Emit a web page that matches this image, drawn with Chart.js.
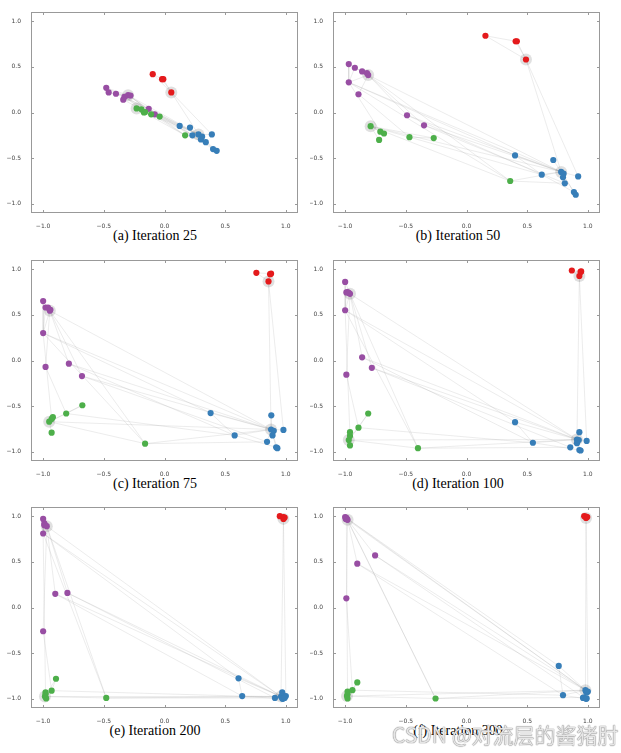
<!DOCTYPE html>
<html>
<head>
<meta charset="utf-8">
<script src="https://cdn.jsdelivr.net/npm/chart.js@4/dist/chart.umd.min.js"></script>
<style>
  body { margin: 0; background: #fff; }
  #page { position: relative; width: 621px; height: 753px; overflow: hidden; }
  canvas { position: absolute; }
  .cap { position: absolute; width: 240px; text-align: center; font: 14px/16px "Liberation Serif", serif; color: #000; }
  .mark { position: absolute; left: 392px; top: 719px; font: 21px "Noto Sans CJK SC", sans-serif; color: #e6e6e6;
          text-shadow: 0 0 1px #777, 0 0 1px #777; white-space: nowrap; }
</style>
</head>
<body>
<div id="page"></div>
<script>
// tick labels and colours
const tickValues = [-1, -0.5, 0, 0.5, 1];
const palette = ["#e41a1c", "#984ea3", "#4daf4a", "#377eb8"];

// node community: 4 red, 9 purple, 7 green, 10 blue
const group = [0, 0, 0, 0,
  1, 1, 1, 1, 1, 1, 1, 1, 1,
  2, 2, 2, 2, 2, 2, 2,
  3, 3, 3, 3, 3, 3, 3, 3, 3, 3];
// labelled nodes (grey halo)
const hubs = [0, 4, 13, 20];
// graph edges (node index pairs)
const edges = [
  [0, 1], [0, 2], [0, 3], [1, 2],
  [4, 5], [4, 6], [4, 7], [4, 8], [4, 9], [4, 10], [4, 11], [4, 12], [5, 9], [6, 9],
  [13, 14], [13, 15], [13, 16], [13, 17], [13, 18], [13, 19], [17, 18],
  [20, 21], [20, 22], [20, 23], [20, 24], [20, 25], [20, 26], [20, 27], [20, 28], [20, 29], [21, 22], [22, 28],
  [0, 26], [0, 20],
  [4, 20], [9, 20], [9, 21], [9, 19], [11, 20], [12, 20], [10, 17], [4, 19], [9, 14],
  [13, 20], [19, 20], [19, 27], [17, 22], [11, 22], [12, 27]
];

// (a) Iteration 25
const a_x = [0.056, -0.097, -0.02, -0.01,
  -0.30, -0.48, -0.46, -0.40, -0.28, -0.33, -0.34, -0.13, -0.08,
  -0.23, -0.19, -0.17, -0.16, -0.11, -0.04, 0.17,
  0.28, 0.125, 0.23, 0.21, 0.31, 0.30, 0.39, 0.34, 0.40, 0.43];
const a_y = [0.22, 0.42, 0.365, 0.365,
  0.19, 0.27, 0.22, 0.205, 0.185, 0.17, 0.14, 0.04, -0.02,
  0.045, 0.035, 0.0, 0.005, -0.02, -0.045, -0.25,
  -0.24, -0.147, -0.25, -0.165, -0.265, -0.295, -0.24, -0.325, -0.40, -0.42];

// (b) Iteration 50
const b_x = [0.49, 0.156, 0.405, 0.415,
  -0.81, -0.97, -0.92, -0.86, -0.82, -0.97, -0.89, -0.49, -0.35,
  -0.79, -0.71, -0.68, -0.72, -0.47, -0.27, 0.36,
  0.78, 0.40, 0.62, 0.715, 0.80, 0.795, 0.92, 0.81, 0.885, 0.90];
const b_y = [0.58, 0.84, 0.78, 0.78,
  0.41, 0.53, 0.49, 0.45, 0.43, 0.33, 0.20, -0.03, -0.14,
  -0.15, -0.21, -0.23, -0.30, -0.27, -0.28, -0.75,
  -0.65, -0.47, -0.68, -0.52, -0.67, -0.71, -0.70, -0.775, -0.87, -0.90];

// (c) Iteration 75
const c_x = [0.857, 0.757, 0.878, 0.87,
  -0.945, -1.0, -0.98, -0.96, -0.94, -1.0, -0.98, -0.788, -0.68,
  -0.95, -0.93, -0.92, -0.93, -0.81, -0.677, -0.16,
  0.878, 0.38, 0.578, 0.88, 0.90, 0.89, 0.98, 0.845, 0.92, 0.93];
const c_y = [0.865, 0.96, 0.95, 0.945,
  0.545, 0.65, 0.58, 0.58, 0.555, 0.30, -0.07, -0.035, -0.17,
  -0.67, -0.64, -0.62, -0.79, -0.58, -0.49, -0.91,
  -0.755, -0.575, -0.82, -0.60, -0.77, -0.82, -0.76, -0.89, -0.95, -0.96];

// (d) Iteration 100
const d_x = [0.93, 0.868, 0.945, 0.94,
  -0.96, -1.0, -0.99, -0.98, -0.97, -1.0, -0.99, -0.86, -0.78,
  -0.97, -0.96, -0.96, -0.96, -0.89, -0.81, -0.40,
  0.91, 0.40, 0.547, 0.93, 0.925, 0.91, 0.99, 0.855, 0.93, 0.94];
const d_y = [0.925, 0.985, 0.975, 0.97,
  0.73, 0.86, 0.745, 0.75, 0.74, 0.55, -0.155, 0.035, -0.08,
  -0.87, -0.825, -0.785, -0.93, -0.735, -0.58, -0.96,
  -0.865, -0.675, -0.90, -0.785, -0.87, -0.905, -0.88, -0.95, -0.98, -0.985];

// (e) Iteration 200
const e_x = [0.98, 0.95, 0.98, 0.99,
  -0.97, -1.0, -0.99, -0.99, -0.985, -1.0, -1.0, -0.90, -0.80,
  -0.985, -0.98, -0.98, -0.975, -0.93, -0.894, -0.48,
  0.96, 0.61, 0.64, 0.97, 0.985, 0.97, 1.0, 0.91, 0.975, 0.99];
const e_y = [0.97, 1.0, 0.99, 0.985,
  0.89, 0.97, 0.92, 0.90, 0.905, 0.81, -0.26, 0.15, 0.16,
  -0.975, -0.95, -0.93, -0.995, -0.91, -0.78, -0.99,
  -0.975, -0.775, -0.97, -0.93, -0.975, -0.995, -0.97, -0.99, -1.0, -0.99];

// (f) Iteration 300
const f_x = [0.985, 0.97, 0.985, 0.995,
  -0.98, -1.0, -0.995, -0.99, -0.985, -0.99, -0.99, -0.90, -0.753,
  -0.985, -0.98, -0.98, -0.98, -0.94, -0.90, -0.255,
  0.98, 0.76, 0.795, 0.985, 0.99, 0.96, 1.0, 0.965, 0.985, 0.99];
const f_y = [0.98, 1.0, 0.995, 0.99,
  0.96, 0.99, 0.97, 0.975, 0.965, 0.98, 0.10, 0.48, 0.57,
  -0.97, -0.95, -0.92, -0.995, -0.905, -0.82, -0.996,
  -0.905, -0.64, -0.96, -0.92, -0.93, -0.99, -0.92, -0.985, -1.0, -0.995];

const panels = [
  { xs: a_x, ys: a_y, title: "(a) Iteration 25", left: 0, top: 0, col: 0 },
  { xs: b_x, ys: b_y, title: "(b) Iteration 50", left: 310, top: 0, col: 1 },
  { xs: c_x, ys: c_y, title: "(c) Iteration 75", left: 0, top: 248, col: 0 },
  { xs: d_x, ys: d_y, title: "(d) Iteration 100", left: 310, top: 248, col: 1 },
  { xs: e_x, ys: e_y, title: "(e) Iteration 200", left: 0, top: 495, col: 0 },
  { xs: f_x, ys: f_y, title: "(f) Iteration 300", left: 310, top: 495, col: 1 }
];
const capTops = [228, 476, 723];

// box round the axes with short inward ticks
const framePlugin = {
  id: "frame",
  afterDraw(chart) {
    const { ctx, chartArea: a, scales } = chart;
    ctx.save();
    ctx.strokeStyle = "#999";
    ctx.lineWidth = 1;
    ctx.strokeRect(a.left + 0.5, a.top + 0.5, a.width - 1, a.height - 1);
    ctx.beginPath();
    scales.x.ticks.forEach((t) => {
      const px = Math.round(scales.x.getPixelForValue(t.value)) + 0.5;
      ctx.moveTo(px, a.bottom); ctx.lineTo(px, a.bottom - 3);
      ctx.moveTo(px, a.top); ctx.lineTo(px, a.top + 3);
    });
    scales.y.ticks.forEach((t) => {
      const py = Math.round(scales.y.getPixelForValue(t.value)) + 0.5;
      ctx.moveTo(a.left, py); ctx.lineTo(a.left + 3, py);
      ctx.moveTo(a.right, py); ctx.lineTo(a.right - 3, py);
    });
    ctx.stroke();
    ctx.restore();
  }
};

const fmt = (v) => v.toFixed(1).replace("-", "\u2212");
const page = document.getElementById("page");

panels.forEach((p, k) => {
  const W = p.col === 0 ? 310 : 311;
  const H = 228;
  const canvas = document.createElement("canvas");
  canvas.width = W;
  canvas.height = H;
  canvas.style.left = p.left + "px";
  canvas.style.top = p.top + "px";
  page.appendChild(canvas);

  const pts = p.xs.map((x, i) => ({ x: x, y: p.ys[i] }));
  const datasets = [
    {
      data: pts,
      backgroundColor: group.map((g) => palette[g]),
      pointRadius: 3.1,
      borderWidth: 0,
      order: 0
    },
    {
      data: hubs.map((i) => pts[i]),
      backgroundColor: "rgba(0,0,0,0.12)",
      pointRadius: 6,
      borderWidth: 0,
      order: 1
    }
  ];
  edges.forEach(([i, j]) => {
    datasets.push({
      data: [pts[i], pts[j]],
      showLine: true,
      pointRadius: 0,
      borderColor: "rgba(160,160,160,0.22)",
      borderWidth: 0.9,
      order: 2
    });
  });

  const axis = (pos, fit) => ({
    type: "linear",
    position: pos,
    min: -1.1,
    max: 1.1,
    grid: { display: false },
    border: { display: false },
    afterBuildTicks: (s) => { s.ticks = tickValues.map((v) => ({ value: v })); },
    afterFit: fit,
    ticks: {
      padding: 2,
      color: "#444",
      font: { family: "DejaVu Sans", size: 6 },
      callback: (v) => fmt(v)
    }
  });

  new Chart(canvas, {
    type: "scatter",
    data: { datasets: datasets },
    options: {
      responsive: false,
      animation: false,
      devicePixelRatio: 1,
      layout: { padding: { top: 12, right: p.col === 0 ? 12 : 21, left: 0, bottom: 0 } },
      plugins: { legend: { display: false }, tooltip: { enabled: false } },
      scales: {
        x: axis("bottom", (s) => { s.height = 15; }),
        y: axis("left", (s) => { s.width = p.col === 0 ? 31 : 23; })
      }
    },
    plugins: [framePlugin]
  });

  const cap = document.createElement("div");
  cap.className = "cap";
  cap.textContent = p.title;
  cap.style.left = (p.col === 0 ? 155 : 458) - 120 + "px";
  cap.style.top = capTops[Math.floor(k / 2)] + "px";
  page.appendChild(cap);
});

const mark = document.createElement("div");
mark.className = "mark";
mark.textContent = "CSDN @对流层的酱猪肘";
page.appendChild(mark);
</script>
</body>
</html>
